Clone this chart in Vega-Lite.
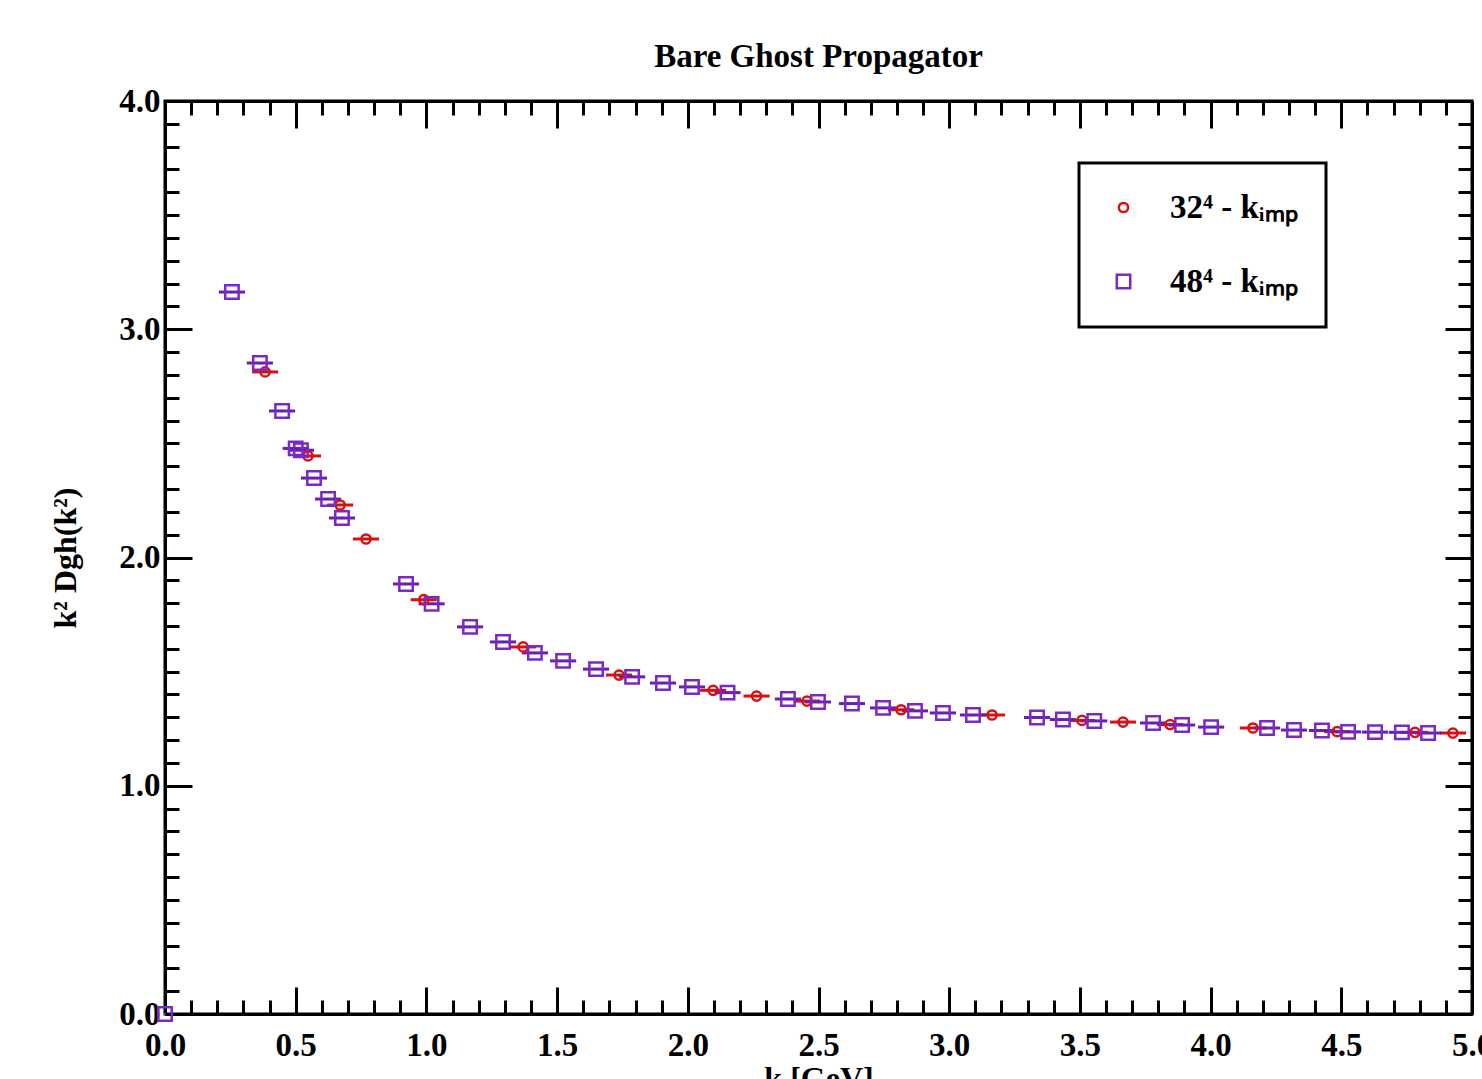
{
  "$schema": "https://vega.github.io/schema/vega-lite/v6.json",
  "autosize": "none",
  "width": 1307,
  "height": 913,
  "padding": {"left": 165, "top": 101, "right": 10, "bottom": 65},
  "background": "white",
  "title": {"text": "Bare Ghost Propagator", "font": "Liberation Serif", "fontWeight": "bold", "fontSize": 33, "color": "black", "offset": 11},
  "config": {
    "view": {"stroke": "black", "strokeWidth": 3},
    "axis": {"grid": false, "tickColor": "black", "domainColor": "black", "domainWidth": 3, "tickWidth": 3, "labelFlush": false, "labelOverlap": false, "labelFont": "Liberation Serif", "labelFontWeight": "bold", "labelFontSize": 33, "labelColor": "black", "titleFont": "Liberation Serif", "titleFontWeight": "bold", "titleFontSize": 32, "titleColor": "black"},
    "legend": {"strokeWidth": 3}
  },
  "data": {"values": [
    {"series": "32⁴ - kᵢₘₚ", "k": 0.383, "v": 2.813, "dk": 0.05},
    {"series": "32⁴ - kᵢₘₚ", "k": 0.547, "v": 2.445, "dk": 0.05},
    {"series": "32⁴ - kᵢₘₚ", "k": 0.670, "v": 2.230, "dk": 0.05},
    {"series": "32⁴ - kᵢₘₚ", "k": 0.769, "v": 2.081, "dk": 0.05},
    {"series": "32⁴ - kᵢₘₚ", "k": 0.990, "v": 1.815, "dk": 0.05},
    {"series": "32⁴ - kᵢₘₚ", "k": 1.370, "v": 1.608, "dk": 0.05},
    {"series": "32⁴ - kᵢₘₚ", "k": 1.737, "v": 1.485, "dk": 0.05},
    {"series": "32⁴ - kᵢₘₚ", "k": 2.097, "v": 1.418, "dk": 0.05},
    {"series": "32⁴ - kᵢₘₚ", "k": 2.263, "v": 1.393, "dk": 0.05},
    {"series": "32⁴ - kᵢₘₚ", "k": 2.456, "v": 1.371, "dk": 0.05},
    {"series": "32⁴ - kᵢₘₚ", "k": 2.816, "v": 1.333, "dk": 0.05},
    {"series": "32⁴ - kᵢₘₚ", "k": 3.164, "v": 1.310, "dk": 0.05},
    {"series": "32⁴ - kᵢₘₚ", "k": 3.508, "v": 1.286, "dk": 0.05},
    {"series": "32⁴ - kᵢₘₚ", "k": 3.665, "v": 1.279, "dk": 0.05},
    {"series": "32⁴ - kᵢₘₚ", "k": 3.845, "v": 1.268, "dk": 0.05},
    {"series": "32⁴ - kᵢₘₚ", "k": 4.162, "v": 1.253, "dk": 0.05},
    {"series": "32⁴ - kᵢₘₚ", "k": 4.484, "v": 1.237, "dk": 0.05},
    {"series": "32⁴ - kᵢₘₚ", "k": 4.782, "v": 1.234, "dk": 0.05},
    {"series": "32⁴ - kᵢₘₚ", "k": 4.927, "v": 1.231, "dk": 0.05},
    {"series": "48⁴ - kᵢₘₚ", "k": 0.0, "v": 0.0, "dk": 0.0},
    {"series": "48⁴ - kᵢₘₚ", "k": 0.256, "v": 3.163, "dk": 0.05},
    {"series": "48⁴ - kᵢₘₚ", "k": 0.363, "v": 2.852, "dk": 0.05},
    {"series": "48⁴ - kᵢₘₚ", "k": 0.448, "v": 2.642, "dk": 0.05},
    {"series": "48⁴ - kᵢₘₚ", "k": 0.500, "v": 2.478, "dk": 0.05},
    {"series": "48⁴ - kᵢₘₚ", "k": 0.520, "v": 2.470, "dk": 0.05},
    {"series": "48⁴ - kᵢₘₚ", "k": 0.570, "v": 2.348, "dk": 0.05},
    {"series": "48⁴ - kᵢₘₚ", "k": 0.624, "v": 2.256, "dk": 0.05},
    {"series": "48⁴ - kᵢₘₚ", "k": 0.677, "v": 2.173, "dk": 0.05},
    {"series": "48⁴ - kᵢₘₚ", "k": 0.922, "v": 1.884, "dk": 0.05},
    {"series": "48⁴ - kᵢₘₚ", "k": 1.020, "v": 1.797, "dk": 0.05},
    {"series": "48⁴ - kᵢₘₚ", "k": 1.167, "v": 1.696, "dk": 0.05},
    {"series": "48⁴ - kᵢₘₚ", "k": 1.293, "v": 1.630, "dk": 0.05},
    {"series": "48⁴ - kᵢₘₚ", "k": 1.415, "v": 1.582, "dk": 0.05},
    {"series": "48⁴ - kᵢₘₚ", "k": 1.523, "v": 1.547, "dk": 0.05},
    {"series": "48⁴ - kᵢₘₚ", "k": 1.649, "v": 1.511, "dk": 0.05},
    {"series": "48⁴ - kᵢₘₚ", "k": 1.787, "v": 1.477, "dk": 0.05},
    {"series": "48⁴ - kᵢₘₚ", "k": 1.905, "v": 1.450, "dk": 0.05},
    {"series": "48⁴ - kᵢₘₚ", "k": 2.016, "v": 1.433, "dk": 0.05},
    {"series": "48⁴ - kᵢₘₚ", "k": 2.152, "v": 1.408, "dk": 0.05},
    {"series": "48⁴ - kᵢₘₚ", "k": 2.383, "v": 1.380, "dk": 0.05},
    {"series": "48⁴ - kᵢₘₚ", "k": 2.498, "v": 1.367, "dk": 0.05},
    {"series": "48⁴ - kᵢₘₚ", "k": 2.628, "v": 1.360, "dk": 0.05},
    {"series": "48⁴ - kᵢₘₚ", "k": 2.747, "v": 1.341, "dk": 0.05},
    {"series": "48⁴ - kᵢₘₚ", "k": 2.869, "v": 1.328, "dk": 0.05},
    {"series": "48⁴ - kᵢₘₚ", "k": 2.976, "v": 1.319, "dk": 0.05},
    {"series": "48⁴ - kᵢₘₚ", "k": 3.091, "v": 1.310, "dk": 0.05},
    {"series": "48⁴ - kᵢₘₚ", "k": 3.336, "v": 1.299, "dk": 0.05},
    {"series": "48⁴ - kᵢₘₚ", "k": 3.435, "v": 1.290, "dk": 0.05},
    {"series": "48⁴ - kᵢₘₚ", "k": 3.555, "v": 1.284, "dk": 0.05},
    {"series": "48⁴ - kᵢₘₚ", "k": 3.780, "v": 1.275, "dk": 0.05},
    {"series": "48⁴ - kᵢₘₚ", "k": 3.891, "v": 1.266, "dk": 0.05},
    {"series": "48⁴ - kᵢₘₚ", "k": 4.002, "v": 1.257, "dk": 0.05},
    {"series": "48⁴ - kᵢₘₚ", "k": 4.216, "v": 1.253, "dk": 0.05},
    {"series": "48⁴ - kᵢₘₚ", "k": 4.319, "v": 1.244, "dk": 0.05},
    {"series": "48⁴ - kᵢₘₚ", "k": 4.426, "v": 1.242, "dk": 0.05},
    {"series": "48⁴ - kᵢₘₚ", "k": 4.526, "v": 1.236, "dk": 0.05},
    {"series": "48⁴ - kᵢₘₚ", "k": 4.629, "v": 1.235, "dk": 0.05},
    {"series": "48⁴ - kᵢₘₚ", "k": 4.732, "v": 1.234, "dk": 0.05},
    {"series": "48⁴ - kᵢₘₚ", "k": 4.832, "v": 1.231, "dk": 0.05}
  ]},
  "resolve": {"axis": {"x": "independent", "y": "independent"}},
  "layer": [
    {
      "transform": [{"filter": "datum.series === '32⁴ - kᵢₘₚ'"}],
      "mark": {"type": "errorbar", "ticks": false, "color": "#d81010", "rule": {"strokeWidth": 3}, "clip": false},
      "encoding": {
        "x": {"field": "k", "type": "quantitative", "scale": {"domain": [0, 5], "nice": false, "zero": false},
          "axis": {"orient": "bottom", "values": [0, 0.5, 1, 1.5, 2, 2.5, 3, 3.5, 4, 4.5, 5], "format": ".1f", "tickSize": -27, "labelPadding": 42, "title": "k [GeV]", "titlePadding": 1}},
        "xError": {"field": "dk"},
        "y": {"field": "v", "type": "quantitative", "scale": {"domain": [0, 4], "nice": false, "zero": false},
          "axis": {"orient": "left", "values": [0, 1, 2, 3, 4], "format": ".1f", "tickSize": -27, "labelPadding": 32, "title": "k² Dgh(k²)", "titlePadding": 36}}
      }
    },
    {
      "transform": [{"filter": "datum.series === '48⁴ - kᵢₘₚ'"}],
      "mark": {"type": "errorbar", "ticks": false, "color": "#6a1fb0", "rule": {"strokeWidth": 3}, "clip": false},
      "encoding": {
        "x": {"field": "k", "type": "quantitative",
          "axis": {"orient": "bottom", "values": [0.1,0.2,0.3,0.4,0.6,0.7,0.8,0.9,1.1,1.2,1.3,1.4,1.6,1.7,1.8,1.9,2.1,2.2,2.3,2.4,2.6,2.7,2.8,2.9,3.1,3.2,3.3,3.4,3.6,3.7,3.8,3.9,4.1,4.2,4.3,4.4,4.6,4.7,4.8,4.9], "tickSize": -14, "labels": false, "domain": false, "title": null}},
        "xError": {"field": "dk"},
        "y": {"field": "v", "type": "quantitative",
          "axis": {"orient": "left", "values": [0.1,0.2,0.3,0.4,0.5,0.6,0.7,0.8,0.9,1.1,1.2,1.3,1.4,1.5,1.6,1.7,1.8,1.9,2.1,2.2,2.3,2.4,2.5,2.6,2.7,2.8,2.9,3.1,3.2,3.3,3.4,3.5,3.6,3.7,3.8,3.9], "tickSize": -14, "labels": false, "domain": false, "title": null}}
      }
    },
    {
      "mark": {"type": "point", "filled": false, "strokeWidth": 2.5, "opacity": 1, "clip": false},
      "encoding": {
        "x": {"field": "k", "type": "quantitative",
          "axis": {"orient": "top", "values": [0, 0.5, 1, 1.5, 2, 2.5, 3, 3.5, 4, 4.5, 5], "tickSize": -27, "labels": false, "title": null}},
        "y": {"field": "v", "type": "quantitative",
          "axis": {"orient": "right", "values": [0, 1, 2, 3, 4], "tickSize": -27, "labels": false, "title": null}},
        "color": {"field": "series", "type": "nominal", "scale": {"domain": ["32⁴ - kᵢₘₚ", "48⁴ - kᵢₘₚ"], "range": ["#d81010", "#7a28c8"]},
          "legend": {"title": null, "orient": "none", "legendX": 914, "legendY": 62, "strokeColor": "black", "fillColor": "white", "padding": 28, "rowPadding": 40, "symbolOffset": 0, "labelOffset": 30, "symbolSize": 70, "symbolStrokeWidth": 2.5, "labelFont": "Liberation Serif", "labelFontWeight": "bold", "labelFontSize": 33, "labelColor": "black", "labelLimit": 400}},
        "shape": {"field": "series", "type": "nominal", "scale": {"domain": ["32⁴ - kᵢₘₚ", "48⁴ - kᵢₘₚ"], "range": ["circle", "square"]}},
        "size": {"field": "series", "type": "nominal", "scale": {"domain": ["32⁴ - kᵢₘₚ", "48⁴ - kᵢₘₚ"], "range": [85, 180]}, "legend": null}
      }
    },
    {
      "transform": [{"filter": "datum.series === '48⁴ - kᵢₘₚ'"}],
      "mark": {"type": "point", "filled": true, "size": 6, "color": "#6a1fb0", "opacity": 1, "clip": false},
      "encoding": {
        "x": {"field": "k", "type": "quantitative",
          "axis": {"orient": "top", "values": [0.1,0.2,0.3,0.4,0.6,0.7,0.8,0.9,1.1,1.2,1.3,1.4,1.6,1.7,1.8,1.9,2.1,2.2,2.3,2.4,2.6,2.7,2.8,2.9,3.1,3.2,3.3,3.4,3.6,3.7,3.8,3.9,4.1,4.2,4.3,4.4,4.6,4.7,4.8,4.9], "tickSize": -14, "labels": false, "domain": false, "title": null}},
        "y": {"field": "v", "type": "quantitative",
          "axis": {"orient": "right", "values": [0.1,0.2,0.3,0.4,0.5,0.6,0.7,0.8,0.9,1.1,1.2,1.3,1.4,1.5,1.6,1.7,1.8,1.9,2.1,2.2,2.3,2.4,2.5,2.6,2.7,2.8,2.9,3.1,3.2,3.3,3.4,3.5,3.6,3.7,3.8,3.9], "tickSize": -14, "labels": false, "domain": false, "title": null}}
      }
    }
  ]
}
